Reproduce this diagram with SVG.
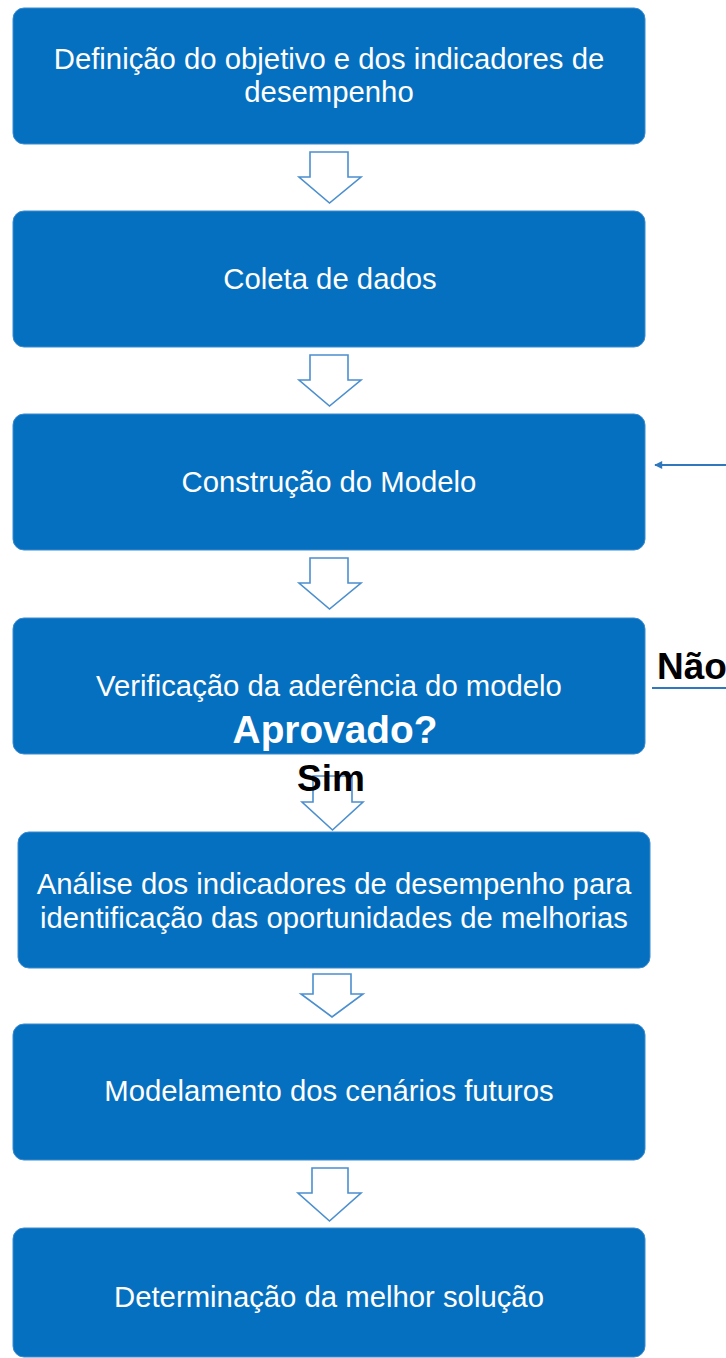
<svg xmlns="http://www.w3.org/2000/svg" width="726" height="1358" viewBox="0 0 726 1358">
  <defs>
    <style>
      .box { fill: #0670C0; stroke: #3a8ad0; stroke-width: 1; }
      .lbl { fill: #ffffff; font-family: "Liberation Sans", Arial, sans-serif; font-size: 29.3px; text-anchor: middle; }
      .big { fill: #ffffff; font-family: "Liberation Sans", Arial, sans-serif; font-size: 38.8px; font-weight: bold; text-anchor: middle; }
      .dec { fill: #000000; font-family: "Liberation Sans", Arial, sans-serif; font-size: 37px; font-weight: bold; }
      .blk { fill: #ffffff; stroke: #4b8fcf; stroke-width: 1.6; stroke-linejoin: miter; }
      .wire { fill: none; stroke: #2f78bd; stroke-width: 1.8; }
    </style>
    <marker id="head" viewBox="0 0 10 10" refX="9" refY="5" markerWidth="9" markerHeight="8" orient="auto-start-reverse" markerUnits="userSpaceOnUse">
      <path d="M0,0 L10,5 L0,10 z" fill="#2f78bd"/>
    </marker>
  </defs>

  <rect width="726" height="1358" fill="#ffffff"/>

  <!-- process steps -->
  <g id="step1">
    <rect class="box" x="13" y="8" width="632" height="136" rx="11"/>
    <text class="lbl" x="329" y="69">Definição do objetivo e dos indicadores de</text>
    <text class="lbl" x="329" y="102">desempenho</text>
  </g>
  <g id="step2">
    <rect class="box" x="13" y="211" width="632" height="136" rx="11"/>
    <text class="lbl" x="330" y="289">Coleta de dados</text>
  </g>
  <g id="step3">
    <rect class="box" x="13" y="414" width="632" height="136" rx="11"/>
    <text class="lbl" x="329" y="492">Construção do Modelo</text>
  </g>
  <g id="step4">
    <rect class="box" x="13" y="618" width="632" height="136" rx="11"/>
    <text class="lbl" x="329" y="696">Verificação da aderência do modelo</text>
    <text class="big" x="335" y="743">Aprovado?</text>
  </g>
  <g id="step5">
    <rect class="box" x="18" y="832" width="632" height="136" rx="11"/>
    <text class="lbl" x="334" y="894">Análise dos indicadores de desempenho para</text>
    <text class="lbl" x="334" y="928">identificação das oportunidades de melhorias</text>
  </g>
  <g id="step6">
    <rect class="box" x="13" y="1024" width="632" height="136" rx="11"/>
    <text class="lbl" x="329" y="1101">Modelamento dos cenários futuros</text>
  </g>
  <g id="step7">
    <rect class="box" x="13" y="1228" width="632" height="129" rx="11"/>
    <text class="lbl" x="329" y="1307">Determinação da melhor solução</text>
  </g>

  <!-- connectors -->
  <g id="connectors">
    <path class="blk" d="M310,152 H348 V177 H361 L329.5,203 L299,177 H310 Z"/>
    <path class="blk" d="M310,355 H348 V380 H361 L329.5,406 L299,380 H310 Z"/>
    <path class="blk" d="M310,558 H348 V583 H361 L329.5,609 L299,583 H310 Z"/>
    <path class="blk" d="M313,776 H352 V802 H363 L332.5,830 L302,802 H313 Z"/>
    <path class="blk" d="M313,974 H351 V994 H363 L332,1017 L301,994 H313 Z"/>
    <path class="blk" d="M312,1168 H348 V1193 H361 L329.5,1221 L298,1193 H312 Z"/>
    <!-- return path when the model is rejected -->
    <line class="wire" x1="726" y1="465" x2="655" y2="465" marker-end="url(#head)"/>
    <line class="wire" x1="652" y1="688" x2="726" y2="688"/>
  </g>

  <!-- decision labels -->
  <g id="labels">
    <text class="dec" x="657" y="679">Não</text>
    <text class="dec" x="297" y="791">Sim</text>
  </g>
</svg>
